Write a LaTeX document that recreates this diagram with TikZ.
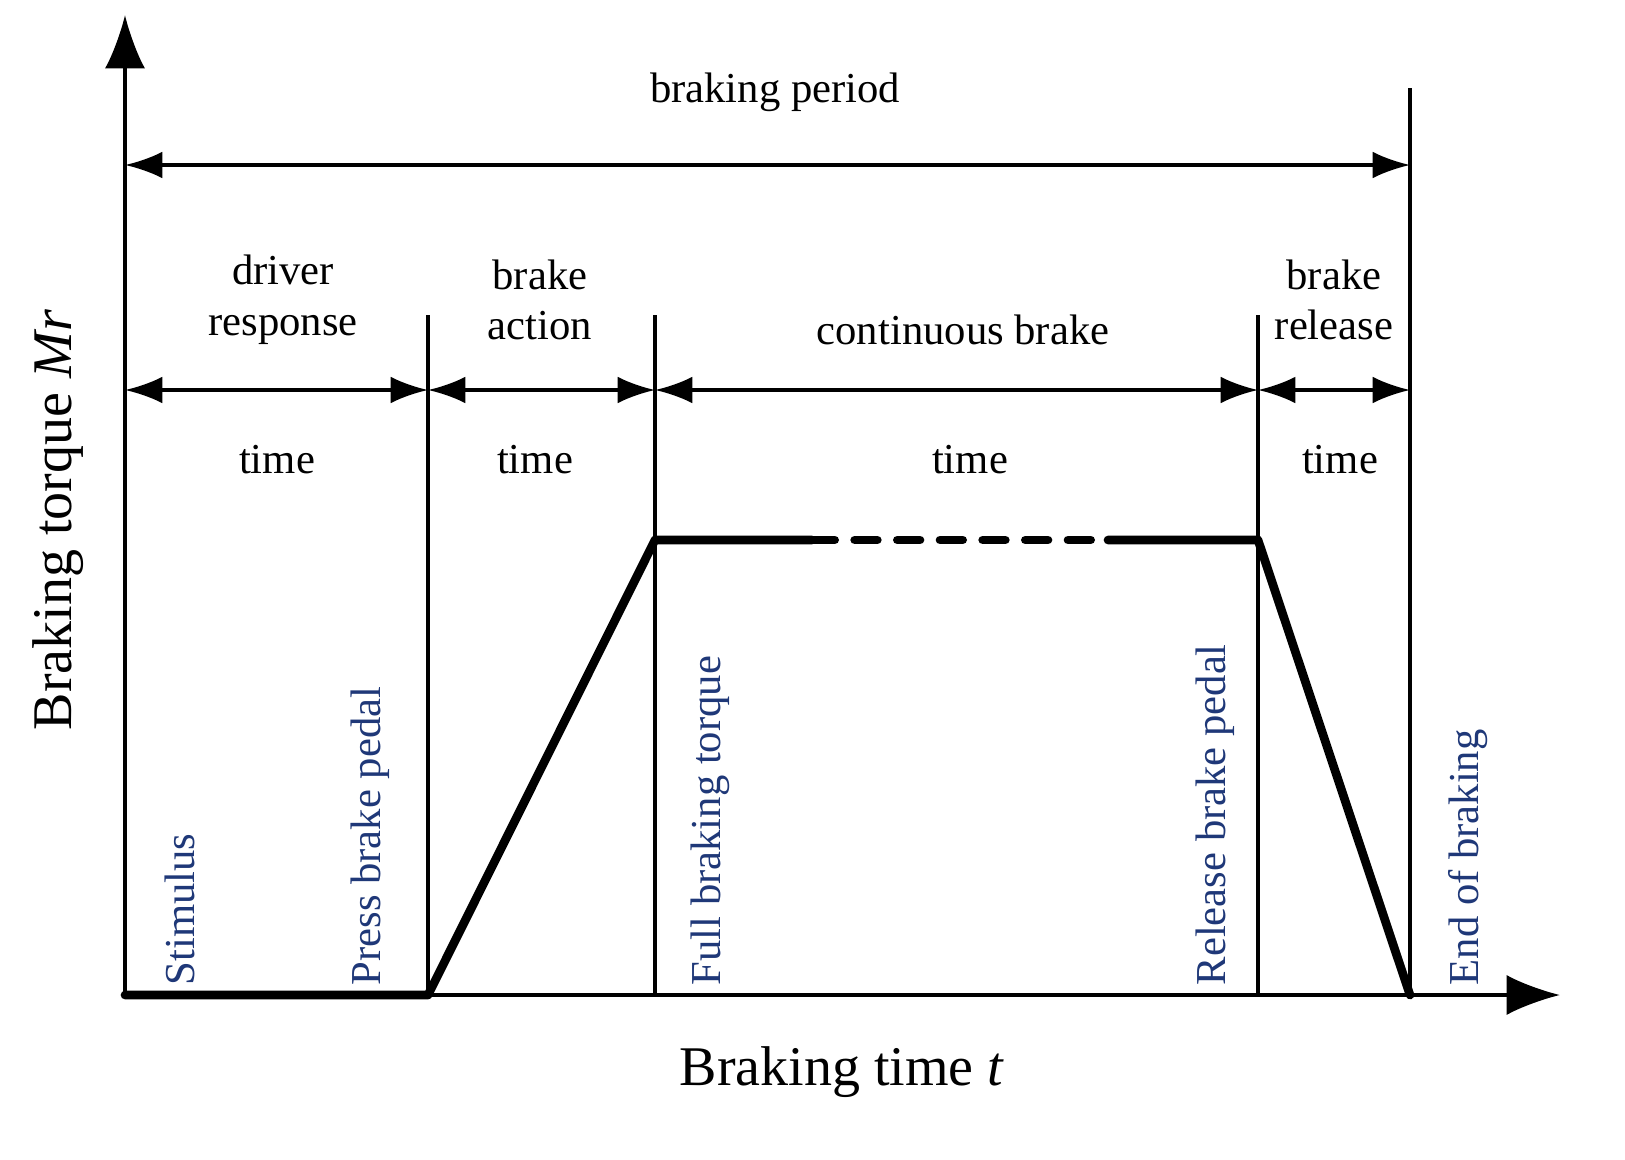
\documentclass[tikz,border=0pt]{standalone}
\usepackage{fontspec}
\setmainfont{Liberation Serif}
\usetikzlibrary{arrows.meta}
\definecolor{lblue}{RGB}{31,56,120}
\tikzset{every picture/.style={line width=2.5pt}}
\tikzset{span/.style={{Latex[length=28pt,width=20pt]}-{Latex[length=28pt,width=20pt]}},
  curve/.style={line width=6.5pt,line cap=round,line join=round},
  lab/.style={font=\fontsize{32}{38}\selectfont,align=center,inner sep=0.75pt},
  evt/.style={font=\fontsize{32}{36}\selectfont,text=lblue,rotate=90,anchor=west,inner sep=0.75pt}}

\begin{document}
\begin{tikzpicture}[x=0.75pt,y=0.75pt,yscale=-1,xscale=1]
\useasboundingbox (0,0) rectangle (1625,1160);

% axes
\coordinate (O) at (125,995);
\coordinate (ytop) at (125,15);
\coordinate (xend) at (1560,995);
\draw [-{Latex[length=40pt,width=30pt]}] (O) -- (ytop);
\draw [-{Latex[length=40pt,width=30pt]}] (O) -- (xend);

% phase boundaries
\coordinate (a0) at (428,315);  \coordinate (a1) at (428,995);
\coordinate (b0) at (655,315);  \coordinate (b1) at (655,995);
\coordinate (c0) at (1258,315); \coordinate (c1) at (1258,995);
\coordinate (d0) at (1410,88);  \coordinate (d1) at (1410,995);
\draw (a0) -- (a1);
\draw (b0) -- (b1);
\draw (c0) -- (c1);
\draw (d0) -- (d1);

% spans
\coordinate (p0) at (125,165); \coordinate (p1) at (1410,165);
\draw [span] (p0) -- (p1);
\coordinate (s0) at (125,390); \coordinate (s1) at (428,390);
\coordinate (s2) at (655,390); \coordinate (s3) at (1258,390);
\coordinate (s4) at (1410,390);
\draw [span] (s0) -- (s1);
\draw [span] (s1) -- (s2);
\draw [span] (s2) -- (s3);
\draw [span] (s3) -- (s4);

% torque curve
\coordinate (k1) at (655,540); \coordinate (k2) at (812,540);
\coordinate (k3) at (1108,540); \coordinate (k4) at (1258,540);
\draw [curve] (O) -- (a1) -- (k1) -- (k2);
\draw [curve,dash pattern=on 17pt off 15pt] (k2) -- (k3);
\draw [curve] (k3) -- (k4) -- (d1);

% Text Node
\node [lab] (tper) at (775,92) {braking period};
\node [lab] (tdr) at (283,300) {driver\\response};
\node [lab] (tba) at (540,300) {brake\\action};
\node [lab] (tcb) at (963,330) {continuous brake};
\node [lab] (tbr) at (1334,300) {brake\\release};
\node [lab] (t1) at (277,460) {time};
\node [lab] (t2) at (535,460) {time};
\node [lab] (t3) at (970,460) {time};
\node [lab] (t4) at (1340,460) {time};
\node [evt] (e1) at (180,988) {Stimulus};
\node [evt] (e2) at (370,988) {Press brake pedal};
\node [evt] (e3) at (710,988) {Full braking torque};
\node [evt] (e4) at (1215,988) {Release brake pedal};
\node [evt] (e5) at (1468,988) {End of braking};
\node [font=\fontsize{42}{48}\selectfont,rotate=90] (ylab) at (58,520) {Braking torque \textit{Mr}};
\node [font=\fontsize{42}{48}\selectfont] (xlab) at (842,1072) {Braking time \textit{t}};
\end{tikzpicture}
\end{document}
